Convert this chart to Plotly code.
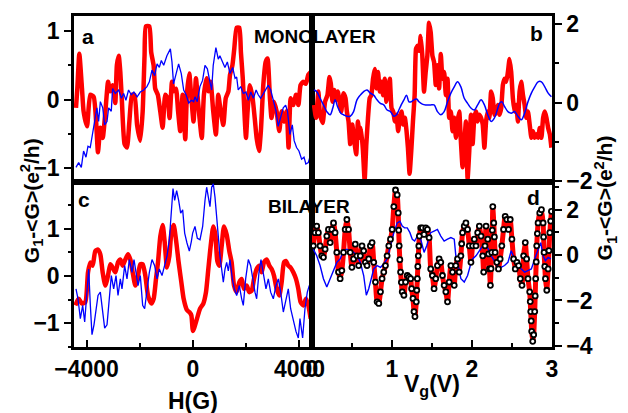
import plotly.graph_objects as go

# ---------------- panel a (monolayer, vs H) ----------------
h_a_red = [-4395, -4345, -4270, -4170, -4110, -3980, -3860, -3730, -3640, -3570, -3480, -3390, -3290, -3190, -3110,
           -3020, -2920, -2860, -2790, -2730, -2670, -2570, -2480, -2390, -2290, -2200, -2100, -1980, -1890, -1820,
           -1770, -1640, -1570, -1480, -1420, -1320, -1230, -1140, -1040, -950, -880, -790, -730, -640, -560,
           -480, -390, -290, -230, -140, -60, 20, 110, 200, 330, 410, 510, 580, 660, 760,
           860, 950, 1040, 1140, 1230, 1330, 1390, 1480, 1550, 1640, 1740, 1800, 1870, 1930, 1990,
           2050, 2140, 2240, 2330, 2390, 2480, 2550, 2640, 2730, 2800, 2890, 2950, 3040, 3140, 3240,
           3330, 3430, 3520, 3590, 3670, 3770, 3870, 3960, 4040, 4140, 4240, 4330, 4420]
g_a_red = [-0.12, 0.16, 0.67, 0.16, -0.17, -0.39, 0.07, 0.04, -0.32, -0.77, -0.41, -0.56, -0.17, 0.26, 0.12,
           0.21, -0.05, 0.50, 0.64, 0.40, -0.03, -0.65, -0.70, -0.32, 0.07, 0.07, -0.37, -0.60, -0.17, 0.64,
           1.07, 1.07, 0.69, 0.50, 0.16, 0.07, -0.17, -0.41, 0.07, 0.02, -0.27, 0.26, 0.12, 0.16, -0.17,
           -0.46, 0.07, -0.58, 0.07, 0.38, 0.02, -0.32, 0.31, -0.08, -0.56, 0.07, 0.31, 0.12, 0.26, -0.17,
           -0.51, 0.07, -0.17, -0.37, 0.02, 0.12, 0.36, 0.50, 0.74, 1.05, 1.05, 0.69, 0.31, -0.17, -0.56,
           -0.17, 0.21, 0.02, -0.32, -0.56, -0.75, -0.46, 0.21, 0.55, 0.60, 0.02, -0.27, -0.03, -0.17, -0.46,
           -0.17, -0.32, -0.17, -0.70, 0.02, -0.08, 0.07, -0.08, 0.21, 0.26, 0.23, 0.36, 0.40]
h_a_blue = [-4395, -4295, -4195, -4110, -4020, -3945, -3860, -3770, -3700, -3610,
            -3545, -3480, -3390, -3320, -3230, -3170, -3070, -3020, -2920, -2790,
            -2690, -2605, -2520, -2420, -2320, -2220, -2100, -1980, -1850, -1730,
            -1640, -1540, -1440, -1350, -1265, -1190, -1100, -980, -850, -790,
            -730, -640, -540, -440, -350, -260, -160, -60, 25, 75,
            160, 260, 360, 450, 540, 610, 700, 760, 860, 950,
            1010, 1110, 1200, 1290, 1390, 1490, 1580, 1640, 1700, 1790,
            1890, 1990, 2080, 2170, 2270, 2370, 2450, 2540, 2640, 2740,
            2830, 2920, 3020, 3120, 3200, 3290, 3390, 3480, 3550, 3640,
            3730, 3800, 3890, 3980, 4080, 4170, 4240, 4330, 4420]
g_a_blue = [-0.99, -0.92, -0.99, -0.75, -0.84, -0.68, -0.70, -0.51, -0.32, -0.12,
            -0.32, -0.03, -0.12, -0.37, -0.32, -0.12, -0.17, 0.16, 0.09, 0.14,
            0.02, 0.09, -0.01, 0.14, 0.07, 0.11, 0.04, 0.11, 0.14, 0.19,
            0.26, 0.43, 0.35, 0.52, 0.47, 0.57, 0.50, 0.64, 0.74, 0.55,
            0.23, 0.35, 0.52, 0.38, 0.14, 0.07, -0.05, -0.01, -0.03, 0.04,
            -0.03, 0.19, 0.28, 0.50, 0.45, 0.31, 0.14, 0.50, 0.76, 0.59,
            0.64, 0.55, 0.47, 0.55, 0.38, 0.47, 0.31, 0.33, 0.14, 0.19,
            0.09, 0.11, -0.01, 0.11, 0.02, 0.14, 0.07, 0.02, 0.09, 0.16,
            0.21, 0.14, -0.03, -0.17, -0.39, -0.27, -0.12, -0.08, -0.17, -0.51,
            -0.37, -0.60, -0.70, -0.75, -0.87, -0.84, -0.94, -0.92, -0.80]

# ---------------- panel b (monolayer, vs Vg) ----------------
v_b_red = [0.025, 0.050, 0.080, 0.100, 0.134, 0.163, 0.193, 0.218, 0.235, 0.256,
           0.277, 0.302, 0.323, 0.344, 0.365, 0.394, 0.419, 0.436, 0.457, 0.478,
           0.503, 0.528, 0.553, 0.574, 0.595, 0.612, 0.637, 0.658, 0.679, 0.700,
           0.721, 0.742, 0.763, 0.784, 0.805, 0.826, 0.847, 0.868, 0.889, 0.910,
           0.931, 0.952, 0.973, 0.994, 1.015, 1.036, 1.056, 1.077, 1.098, 1.119,
           1.140, 1.161, 1.182, 1.199, 1.220, 1.241, 1.262, 1.283, 1.300, 1.321,
           1.342, 1.358, 1.379, 1.400, 1.421, 1.442, 1.463,
           1.484, 1.505, 1.526, 1.547, 1.568, 1.589, 1.610, 1.631, 1.652, 1.673,
           1.694, 1.715, 1.736, 1.757, 1.778, 1.799, 1.820, 1.841, 1.861, 1.882,
           1.903, 1.924, 1.945, 1.966, 1.987, 2.008, 2.029, 2.050, 2.071, 2.092,
           2.113, 2.134, 2.155, 2.176, 2.197, 2.218, 2.239, 2.260, 2.281, 2.302,
           2.323, 2.344, 2.365, 2.386, 2.407, 2.428, 2.449, 2.469, 2.490, 2.511,
           2.532, 2.553, 2.574, 2.595, 2.616, 2.637, 2.658, 2.679, 2.700, 2.721,
           2.742, 2.763, 2.784, 2.805, 2.826, 2.847, 2.868, 2.889, 2.910, 2.931,
           2.952, 2.973, 2.993]
g_b_red = [-0.06, -0.39, 0.28, -0.31, -0.52, 0.02, 0.19, 0.65, 0.49, 0.02,
           0.32, 0.07, 0.28, 0.02, -0.23, 0.24, 0.11, -0.23, -0.48, -1.06,
           -0.56, -0.98, -1.32, -0.48, -0.90, -0.65, -1.23, -1.99, -1.06, -0.39,
           0.11, 0.19, 0.61, 0.86, 0.36, 0.78, 0.28, 0.53, 0.19, 0.61,
           0.02, 0.28, 0.61, -0.14, -0.23, -0.48, -0.31, -0.73, -0.39, -0.23,
           -0.56, -0.39, -0.73, -1.15, -1.82, -1.23, -0.48, 0.19, 1.37, 1.45,
           1.32, 1.70, 1.20, 0.28, 0.78, 1.20, 2.04,
           1.79, 1.20, 1.03, 0.45, 0.95, 0.36, 1.24, 0.61, 0.78, 0.19,
           0.61, -0.39, -0.23, -0.73, -0.39, -0.90, -0.48, -0.23, -0.98, -1.65,
           -1.06, -0.48, -1.95, -1.23, -0.31, -1.06, -0.39, -0.23, -0.48, -0.31,
           -0.39, -0.56, -1.15, -0.48, -0.23, -0.39, 0.28, 0.11, -0.31, -0.23,
           -0.06, -0.31, -0.14, 0.45, 0.61, 0.53, 0.78, 1.11, 0.78, 0.11,
           -0.23, -0.06, -0.48, 0.28, 0.53, 0.19, -0.06, -0.39, -0.23, -0.56,
           -0.90, -0.73, -0.90, -0.81, -0.90, -0.65, -0.90, -0.39, -0.23, -0.39,
           -0.65, -0.81, -1.15]
v_b_blue = [0.025, 0.059, 0.101, 0.143, 0.185, 0.226, 0.260, 0.289, 0.319, 0.361,
            0.394, 0.436, 0.478, 0.520, 0.562, 0.604, 0.646, 0.688, 0.729, 0.771,
            0.813, 0.855, 0.897, 0.939, 0.981, 1.023, 1.057, 1.086, 1.115, 1.149,
            1.182, 1.212, 1.241, 1.275, 1.308, 1.337, 1.379, 1.421, 1.463, 1.484,
            1.526, 1.568, 1.610, 1.652, 1.694, 1.736, 1.778, 1.819, 1.861, 1.903,
            1.945, 1.987, 2.029, 2.071, 2.113, 2.155, 2.197, 2.239, 2.281, 2.323,
            2.344, 2.373, 2.407, 2.449, 2.490, 2.532, 2.574, 2.616, 2.658, 2.700,
            2.742, 2.784, 2.826, 2.868, 2.910, 2.952, 2.993]
g_b_blue = [0.32, 0.28, 0.11, -0.06, -0.23, -0.31, -0.14, 0.07, -0.10, -0.27,
            -0.31, -0.35, -0.35, -0.23, 0.07, 0.19, 0.28, 0.32, 0.24, 0.19,
            0.07, -0.02, -0.06, -0.19, -0.23, -0.35, -0.31, -0.19, -0.06, 0.07,
            0.19, 0.02, 0.02, 0.07, 0.09, 0.02, -0.04, -0.06, -0.06, -0.06,
            -0.06, -0.23, -0.31, -0.23, 0.02, 0.24, 0.40, 0.53, 0.40, 0.11,
            -0.02, -0.14, -0.19, -0.06, 0.07, -0.06, -0.31, -0.48, -0.39, -0.14,
            -0.02, 0.02, -0.10, -0.23, -0.27, -0.23, -0.35, -0.44, -0.27, 0.02,
            0.24, 0.40, 0.53, 0.53, 0.40, 0.24, 0.15]

# ---------------- panel c (bilayer, vs H) ----------------
h_c_red = [-4420, -4295, -4170, -4045, -3944, -3856, -3769, -3669, -3568, -3481,
           -3393, -3293, -3193, -3105, -3018, -2917, -2817, -2730, -2642, -2542,
           -2442, -2354, -2266, -2166, -2066, -1979, -1891, -1791, -1690, -1565,
           -1478, -1390, -1315, -1227, -1140, -1065, -977, -889, -814, -726,
           -639, -539, -438, -351, -226, -138, -63, 0, 150, 263,
           388, 488, 576, 663, 763, 839, 914, 989, 1076, 1164,
           1264, 1364, 1452, 1540, 1640, 1740, 1828, 1915, 2015, 2116,
           2203, 2291, 2391, 2491, 2579, 2666, 2767, 2867, 2954, 3042,
           3142, 3242, 3330, 3418, 3493, 3580, 3668, 3768, 3868, 3956,
           4043, 4144, 4244, 4332, 4420]
g_c_red = [-0.62, -0.48, -0.58, -0.55, 0.08, 0.29, 0.22, 0.53, 0.56, 0.46,
           0.08, -0.20, 0.01, 0.25, 0.18, 0.08, 0.29, 0.35, 0.22, 0.35,
           0.46, 0.35, 0.08, -0.20, 0.01, 0.25, 0.25, 0.01, -0.41, -0.58,
           -0.48, -0.06, 0.29, 0.84, 1.08, 0.73, 0.18, 0.42, 0.91, 1.08,
           0.77, 0.29, -0.13, -0.48, -0.72, -0.76, -0.83, -1.16, -0.90, -0.69,
           -0.58, -0.34, 0.15, 0.63, 1.05, 0.88, 0.32, 0.22, 0.63, 1.05,
           0.88, 0.53, 0.29, -0.20, -0.34, -0.13, -0.06, -0.27, -0.20, -0.34,
           -0.31, -0.06, 0.15, 0.22, 0.08, 0.29, 0.35, 0.22, 0.15, 0.01,
           -0.27, -0.41, -0.13, 0.29, 0.32, 0.22, 0.18, 0.08, -0.06, -0.27,
           -0.55, -0.62, -0.48, -0.62, -0.90]
h_c_blue = [-4395, -4320, -4232, -4144, -4069, -3982, -3919, -3856, -3794, -3719,
            -3644, -3568, -3481, -3393, -3318, -3230, -3143, -3068, -2980, -2892,
            -2817, -2730, -2667, -2567, -2479, -2392, -2291, -2216, -2141, -2066,
            -1979, -1891, -1816, -1728, -1640, -1540, -1440, -1352, -1265, -1164,
            -1065, -977, -889, -814, -751, -689, -614, -539, -463, -388,
            -313, -226, -138, -63, -13, 75, 163, 263, 363, 450,
            513, 576, 638, 701, 763, 826, 889, 951, 1014, 1076,
            1139, 1202, 1264, 1327, 1389, 1477, 1552, 1640, 1740, 1828,
            1890, 1978, 2078, 2166, 2241, 2328, 2391, 2479, 2554, 2641,
            2741, 2829, 2917, 3017, 3117, 3205, 3293, 3393, 3493, 3580,
            3668, 3768, 3868, 3956, 4018, 4118, 4206, 4294, 4369, 4419]
g_c_blue = [-0.27, -0.48, -0.90, -0.62, -0.97, -0.27, 0.15, -0.62, -1.24, -1.03,
            -0.76, -0.41, -0.34, -0.76, -1.10, -1.03, -0.41, 0.01, -0.27, 0.01,
            -0.41, -0.06, -0.27, 0.22, -0.06, 0.35, 0.08, 0.35, 0.08, -0.20,
            0.01, -0.62, -0.69, -0.27, 0.08, 0.35, 0.22, -0.06, 0.15, 0.01,
            0.22, 0.42, 0.77, 1.47, 1.85, 1.60, 1.81, 1.60, 1.33, 1.40,
            0.91, 0.70, 0.53, 0.73, 0.91, 1.05, 0.80, 0.77, 1.05, 1.60,
            1.88, 1.67, 1.47, 1.88, 1.95, 1.67, 1.26, 0.77, 0.42, 0.15,
            -0.13, 0.15, 0.29, 0.11, 0.35, -0.06, -0.27, -0.41, -0.20, -0.48,
            -0.62, -0.06, 0.35, 0.22, -0.06, -0.34, -0.48, 0.08, 0.35, 0.01,
            -0.27, -0.06, -0.34, -0.48, -0.20, -0.06, -0.34, -0.76, -0.48, -0.27,
            -0.69, -0.97, -1.17, -1.31, -0.90, -1.31, -0.69, -0.34, -0.20, -0.55]

# ---------------- panel d (bilayer, vs Vg) ----------------
v_d_red = [0.017, 0.038, 0.059, 0.080, 0.101, 0.122, 0.143, 0.164, 0.185, 0.206,
           0.227, 0.248, 0.269, 0.289, 0.310, 0.331, 0.352, 0.373, 0.394, 0.415,
           0.436, 0.457, 0.478, 0.499, 0.520, 0.541, 0.562, 0.583, 0.604, 0.625,
           0.646, 0.667, 0.688, 0.709, 0.730, 0.751, 0.772, 0.793, 0.814, 0.835,
           0.856, 0.876, 0.897, 0.918, 0.939, 0.960, 0.981, 1.002, 1.023, 1.044,
           1.065, 1.078, 1.084, 1.090, 1.098, 1.107, 1.117, 1.128, 1.149, 1.170,
           1.191, 1.212, 1.233, 1.245, 1.262, 1.275, 1.287, 1.304, 1.310, 1.317,
           1.323, 1.329, 1.335, 1.342, 1.359, 1.380, 1.401, 1.422, 1.443, 1.464,
           1.484, 1.505, 1.526, 1.547, 1.568, 1.589, 1.610, 1.631, 1.652, 1.673,
           1.694, 1.715, 1.736, 1.757, 1.778, 1.798, 1.819, 1.840, 1.861, 1.871,
           1.882, 1.903, 1.924, 1.945, 1.966, 1.987, 2.008, 2.029, 2.050, 2.071,
           2.092, 2.113, 2.134, 2.146, 2.163, 2.176, 2.197, 2.208, 2.218, 2.230,
           2.238, 2.247, 2.254, 2.260, 2.272, 2.280, 2.289, 2.310, 2.331, 2.352,
           2.373, 2.394, 2.415, 2.436, 2.457, 2.478, 2.499, 2.520, 2.541, 2.562,
           2.583, 2.604, 2.625, 2.645, 2.666, 2.683, 2.700, 2.721, 2.728, 2.734,
           2.740, 2.746, 2.759, 2.771, 2.784, 2.790, 2.796, 2.803, 2.809, 2.817,
           2.826, 2.847, 2.868, 2.889, 2.895, 2.901, 2.910, 2.918, 2.935, 2.952,
           2.962, 2.973, 2.983, 2.993]
g_d_red = [0.41, 0.99, 1.28, 0.99, 0.41, -0.03, -0.10, 0.26, 0.84, 1.13,
           0.55, 1.13, 1.42, 0.99, 0.12, -0.75, -1.04, -0.68, 0.12, 1.13,
           1.57, 1.13, 0.12, -0.54, -0.17, 0.48, -0.03, -0.46, -0.03, 0.41,
           0.19, -0.32, -0.46, -0.17, 0.41, 0.55, -0.32, -1.19, -2.06, -2.13,
           -1.62, -1.04, -0.75, -0.46, -0.03, 0.41, 0.70, 1.13, 2.14, 2.87,
           2.65, 1.86, 1.10, 0.41, -0.20, -0.75, -1.20, -1.62, -1.77, -1.19,
           -0.90, -0.97, -1.04, -1.48, -1.91, -2.49, -2.71, -2.06, -1.55, -1.04,
           -0.50, -0.03, 0.40, 0.84, 1.20, 1.20, 0.91, 1.20, 1.13, 0.77,
           -0.61, -0.90, -1.48, -1.04, -0.46, -0.17, -0.32, -0.90, -1.33, -1.62,
           -2.06, -1.19, -0.46, -0.75, -1.33, -0.46, -0.17, -0.75, -0.03, 0.50,
           0.99, 1.28, 1.42, 1.13, 0.41, -0.32, 0.41, 0.70, 0.41, 0.99,
           1.28, 0.84, -0.03, -0.75, 0.41, 1.28, 0.70, 0.05, -0.61, -1.33,
           -0.60, 0.12, 1.10, 2.14, 1.42, 0.80, 0.12, -0.32, -0.61, -0.17,
           0.41, 1.13, 1.71, 1.57, 1.13, 1.57, 0.70, -0.17, -0.61, -0.32,
           -0.46, -1.04, -1.33, -0.03, 0.55, -0.17, -1.04, -1.62, -2.05, -2.49,
           -2.90, -3.36, -3.80, -3.51, -2.49, -1.80, -1.04, -0.30, 0.41, 0.95,
           1.42, 1.86, 2.00, 1.42, 0.80, 0.12, -0.50, -1.04, -1.55, -0.61,
           0.20, 0.99, 1.50, 1.93]
v_d_blue = [0.017, 0.059, 0.101, 0.143, 0.185, 0.227, 0.269, 0.310, 0.352, 0.394,
            0.436, 0.478, 0.520, 0.562, 0.604, 0.646, 0.679, 0.709, 0.738, 0.772,
            0.814, 0.856, 0.897, 0.939, 0.981, 1.023, 1.065, 1.099, 1.128, 1.157,
            1.191, 1.224, 1.254, 1.283, 1.317, 1.359, 1.401, 1.434, 1.464, 1.484,
            1.526, 1.568, 1.610, 1.652, 1.694, 1.736, 1.778, 1.798, 1.828, 1.861,
            1.903, 1.945, 1.979, 2.008, 2.050, 2.092, 2.134, 2.176, 2.205, 2.239,
            2.281, 2.323, 2.365, 2.407, 2.449, 2.490, 2.532, 2.574, 2.616, 2.658,
            2.700, 2.742, 2.784, 2.826, 2.859, 2.889, 2.918, 2.952, 2.985]
g_d_blue = [0.26, -0.03, -0.46, -1.04, -1.41, -1.04, -0.61, -0.32, -0.17, 0.19,
            0.26, 0.19, 0.12, -0.03, -0.32, -0.90, -1.77, -1.48, -1.04, -0.61,
            -0.46, -0.54, -0.39, -0.17, 0.41, 0.99, 1.42, 1.49, 1.28, 1.20,
            1.20, 0.99, 0.70, 0.62, 0.84, 0.70, 0.12, 0.41, 0.77, 0.99,
            1.06, 1.13, 0.84, 0.62, 0.70, 0.77, 0.70, -0.03, -0.46, -1.04,
            -1.19, -0.90, -0.46, -0.17, -0.03, 0.19, 0.41, 0.48, 0.26, -0.03,
            -0.25, -0.54, -0.54, -0.46, -0.32, 0.19, -0.17, -0.46, -0.61, -0.75,
            -0.68, -0.61, -0.17, 0.26, 0.55, -0.03, -0.25, -0.10, -0.17]

RED = "#ff0000"
BLUE = "#0000ff"
FONT = "Arial, Liberation Sans, sans-serif"

fig = go.Figure()
fig.add_trace(go.Scatter(x=h_a_red, y=g_a_red, mode="lines",
                         line=dict(color=RED, width=4.5, shape="spline", smoothing=0.5),
                         xaxis="x", yaxis="y"))
fig.add_trace(go.Scatter(x=h_a_blue, y=g_a_blue, mode="lines", line=dict(color=BLUE, width=1.3),
                         xaxis="x", yaxis="y"))
fig.add_trace(go.Scatter(x=v_b_red, y=g_b_red, mode="lines",
                         line=dict(color=RED, width=4.5, shape="spline", smoothing=0.4),
                         xaxis="x2", yaxis="y2"))
fig.add_trace(go.Scatter(x=v_b_blue, y=g_b_blue, mode="lines", line=dict(color=BLUE, width=1.5, shape="spline"),
                         xaxis="x2", yaxis="y2"))
fig.add_trace(go.Scatter(x=h_c_red, y=g_c_red, mode="lines", line=dict(color=RED, width=4.5, shape="spline", smoothing=0.6),
                         xaxis="x3", yaxis="y3"))
fig.add_trace(go.Scatter(x=h_c_blue, y=g_c_blue, mode="lines", line=dict(color=BLUE, width=1.3),
                         xaxis="x3", yaxis="y3"))
fig.add_trace(go.Scatter(x=v_d_red, y=g_d_red, mode="lines", line=dict(color=RED, width=5, shape="spline", smoothing=0.6),
                         xaxis="x4", yaxis="y4"))
fig.add_trace(go.Scatter(x=v_d_blue, y=g_d_blue, mode="lines", line=dict(color=BLUE, width=1.4),
                         xaxis="x4", yaxis="y4"))
fig.add_trace(go.Scatter(x=v_d_red, y=g_d_red, mode="markers",
                         marker=dict(symbol="circle", size=5, color="white", line=dict(color="#000000", width=1.8)),
                         xaxis="x4", yaxis="y4"))

XS = 0.4979
YS = 0.497
tickfont = dict(family=FONT, size=23, color="black", weight="bold")
common = dict(showline=True, linewidth=2.5, linecolor="black", mirror=True, showgrid=False,
              zeroline=False, tickfont=tickfont, tickcolor="black", tickwidth=2)

# the page body adds an 8px offset, so the figure is shrunk by that amount
fig.update_layout(
    width=620, height=405,
    margin=dict(l=66, r=76, t=3, b=66),
    paper_bgcolor="white", plot_bgcolor="white",
    showlegend=False,
    xaxis=dict(domain=[0, XS], range=[-4470, 4470], anchor="y", showticklabels=False, ticks="", **common),
    yaxis=dict(domain=[YS, 1], range=[-1.21, 1.22], anchor="x", dtick=1, ticks="outside", ticklen=7,
               minor=dict(dtick=0.5, ticks="outside", ticklen=3, tickcolor="black", tickwidth=2), **common),
    xaxis2=dict(domain=[XS, 1], range=[0, 3.0], anchor="y2", showticklabels=False, ticks="", **common),
    yaxis2=dict(domain=[YS, 1], range=[-2.04, 2.21], anchor="x2", side="right", dtick=2, ticks="outside", ticklen=7,
                minor=dict(dtick=1, ticks="outside", ticklen=4, tickcolor="black", tickwidth=2), **common),
    xaxis3=dict(domain=[0, XS], range=[-4470, 4470], anchor="y3", dtick=4000, ticks="inside", ticklen=7,
                minor=dict(dtick=2000, ticks="inside", ticklen=4, tickcolor="black", tickwidth=2), **common),
    yaxis3=dict(domain=[0, YS], range=[-1.5, 1.98], anchor="x3", dtick=1, ticks="outside", ticklen=7,
                minor=dict(dtick=0.5, ticks="outside", ticklen=3, tickcolor="black", tickwidth=2), **common),
    xaxis4=dict(domain=[XS, 1], range=[0, 3.0], anchor="y4", dtick=1, ticks="inside", ticklen=7,
                minor=dict(dtick=0.5, ticks="inside", ticklen=4, tickcolor="black", tickwidth=2), **common),
    yaxis4=dict(domain=[0, YS], range=[-4.05, 3.2], anchor="x4", side="right", dtick=2, ticks="outside", ticklen=7,
                minor=dict(dtick=1, ticks="outside", ticklen=4, tickcolor="black", tickwidth=2), **common),
)

def ann(text, x, y, size, angle=0):
    fig.add_annotation(text=text, x=x, y=y, xref="paper", yref="paper", showarrow=False,
                       xanchor="center", yanchor="middle", textangle=angle,
                       font=dict(family=FONT, size=size, color="black", weight="bold"))

ann("a", 0.0303, 0.9375, 21)
ann("b", 0.9686, 0.9464, 21)
ann("c", 0.0209, 0.4464, 21)
ann("d", 0.9623, 0.4524, 21)
ann("MONOLAYER", 0.5052, 0.9375, 19)
ann("BILAYER", 0.4916, 0.4256, 19)
ann("G<sub>1</sub>-&lt;G&gt;(e<sup>2</sup>/h)", -0.090, 0.4435, 21, -90)
ann("G<sub>1</sub>-&lt;G&gt;(e<sup>2</sup>/h)", 1.111, 0.449, 21, -90)
ann("H(G)", 0.249, -0.164, 23)
ann("V<sub>g</sub>(V)", 0.749, -0.115, 23)

fig.write_html("out.html")
